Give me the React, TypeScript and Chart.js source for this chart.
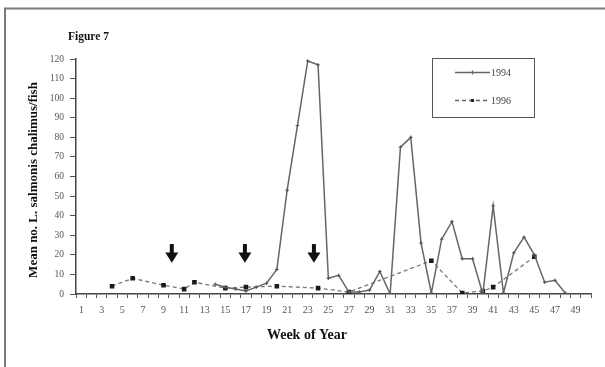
import React, { useEffect, useRef } from "react";
import { Chart, registerables } from "chart.js";
Chart.register(...registerables);

const weekLabels = [
  "1","2","3","4","5","6","7","8","9","10",
  "11","12","13","14","15","16","17","18","19","20",
  "21","22","23","24","25","26","27","28","29","30",
  "31","32","33","34","35","36","37","38","39","40",
  "41","42","43","44","45","46","47","48","49","50",
];

const series1994: (number | null)[] = [
  null, null, null, null, null, null, null, null, null, null,
  null, null, null, 5, 3.5, 2.5, 1.5, 3.5, 5.5, 12.5,
  53, 86, 119, 117, 8, 9.5, 1, 1, 2, 11.5,
  0, 75, 80, 26, 0.5, 28, 37, 18, 18, 0,
  45, 0.5, 21, 29, 20, 6, 7, 0.5, null, null,
];

const series1996: (number | null)[] = [
  null, null, null, 4, null, 8, null, null, 4.5, null,
  2.5, 6, null, null, 3, null, 3.5, null, null, 4,
  null, null, null, 3, null, null, 1, null, null, null,
  null, null, null, null, 17, null, null, 0.5, null, 1.5,
  3.5, null, null, null, 19, null, null, null, null, null,
];

const seriesNames = ["1994", "1996"];
const arrowWeeks = [9.8, 16.9, 23.6];
const arrowTopValue = 25.5;
const arrowTipValue = 16;
const yMin = 0;
const yMax = 120;
const yStep = 10;
const figureTitle = "Figure 7";
const xTitle = "Week of Year";
const yTitle = "Mean no. L. salmonis chalimus/fish";

const SERIF = '"Liberation Serif", "Times New Roman", serif';

const decorPlugin = {
  id: "decor",
  beforeDraw(chart: any) {
    const ctx = chart.ctx;
    ctx.save();
    ctx.fillStyle = "#ffffff";
    ctx.fillRect(0, 0, chart.width, chart.height);
    ctx.strokeStyle = "#7a7a7a";
    ctx.lineWidth = 2;
    ctx.beginPath();
    ctx.moveTo(5, chart.height);
    ctx.lineTo(5, 8.5);
    ctx.lineTo(chart.width, 8.5);
    ctx.stroke();
    ctx.restore();
  },
  afterDraw(chart: any) {
    const ctx = chart.ctx;
    const xs = chart.scales.x;
    const ys = chart.scales.y;
    ctx.save();

    // arrows
    const p0 = xs.getPixelForValue(0);
    const step = xs.getPixelForValue(1) - p0;
    ctx.fillStyle = "#111";
    arrowWeeks.forEach((w) => {
      const cx = p0 + (w - 1) * step;
      const top = ys.getPixelForValue(arrowTopValue);
      const tip = ys.getPixelForValue(arrowTipValue);
      const headH = (tip - top) * 0.55;
      ctx.fillRect(cx - 2, top, 4, tip - top - headH + 1);
      ctx.beginPath();
      ctx.moveTo(cx - 6.5, tip - headH);
      ctx.lineTo(cx + 6.5, tip - headH);
      ctx.lineTo(cx, tip);
      ctx.closePath();
      ctx.fill();
    });

    // titles
    ctx.fillStyle = "#111";
    ctx.font = `bold 11.5px ${SERIF}`;
    ctx.textAlign = "left";
    ctx.textBaseline = "middle";
    ctx.fillText(figureTitle, 68, 37);

    ctx.font = `bold 14px ${SERIF}`;
    ctx.textAlign = "center";
    ctx.fillText(xTitle, 307, 335);

    ctx.save();
    ctx.translate(34, 180);
    ctx.rotate(-Math.PI / 2);
    ctx.font = `bold 13px ${SERIF}`;
    ctx.fillText(yTitle, 0, 0);
    ctx.restore();

    // legend
    ctx.strokeStyle = "#555";
    ctx.lineWidth = 1;
    ctx.strokeRect(432.5, 58.5, 102, 59);
    ctx.font = `10px ${SERIF}`;
    ctx.textAlign = "left";
    ctx.fillStyle = "#444";

    // 1994
    ctx.strokeStyle = "#666";
    ctx.lineWidth = 1.3;
    ctx.beginPath();
    ctx.moveTo(455, 72.5);
    ctx.lineTo(490, 72.5);
    ctx.stroke();
    ctx.beginPath();
    ctx.moveTo(472.5, 70.5);
    ctx.lineTo(472.5, 74.5);
    ctx.stroke();
    ctx.fillText(seriesNames[0], 491, 73);

    // 1996
    ctx.setLineDash([4, 3]);
    ctx.beginPath();
    ctx.moveTo(455, 100.5);
    ctx.lineTo(490, 100.5);
    ctx.stroke();
    ctx.setLineDash([]);
    ctx.fillStyle = "#222";
    ctx.fillRect(471, 99, 3, 3);
    ctx.fillStyle = "#444";
    ctx.fillText(seriesNames[1], 491, 101);

    ctx.restore();
  },
};

export default function App() {
  const canvasRef = useRef<HTMLCanvasElement | null>(null);

  useEffect(() => {
    if (!canvasRef.current) return;
    const chart = new Chart(canvasRef.current, {
      type: "line",
      data: {
        labels: weekLabels,
        datasets: [
          {
            label: seriesNames[0],
            data: series1994,
            borderColor: "#666666",
            borderWidth: 1.5,
            pointStyle: "cross",
            pointRadius: 1.8,
            pointBorderColor: "#555",
            pointBorderWidth: 1,
            tension: 0,
            fill: false,
          },
          {
            label: seriesNames[1],
            data: series1996,
            borderColor: "#777777",
            borderWidth: 1.3,
            borderDash: [4, 3],
            pointStyle: "rect",
            pointRadius: 2.3,
            pointBackgroundColor: "#1a1a1a",
            pointBorderColor: "#1a1a1a",
            spanGaps: true,
            tension: 0,
            fill: false,
          },
        ],
      },
      options: {
        animation: false,
        responsive: false,
        maintainAspectRatio: false,
        layout: { padding: { left: 0, top: 59, right: 14, bottom: 0 } },
        plugins: {
          legend: { display: false },
          tooltip: { enabled: false },
        },
        scales: {
          x: {
            type: "category",
            offset: true,
            afterFit: (scale: any) => {
              scale.height = 73;
            },
            grid: {
              offset: true,
              drawOnChartArea: false,
              drawTicks: true,
              tickLength: 4,
              color: "#555",
            },
            border: { display: true, color: "#444", width: 1.5 },
            ticks: {
              autoSkip: false,
              maxRotation: 0,
              minRotation: 0,
              padding: 6,
              color: "#555",
              font: { family: SERIF, size: 10 },
              callback: (_v: any, i: number) => (i % 2 === 0 ? weekLabels[i] : ""),
            },
          },
          y: {
            min: yMin,
            max: yMax,
            afterFit: (scale: any) => {
              scale.width = 76;
            },
            grid: {
              drawOnChartArea: false,
              drawTicks: true,
              tickLength: 6,
              color: "#555",
            },
            border: { display: true, color: "#444", width: 1.5 },
            ticks: {
              stepSize: yStep,
              padding: 6,
              color: "#555",
              font: { family: SERIF, size: 9.5 },
            },
          },
        },
      },
      plugins: [decorPlugin],
    });
    return () => chart.destroy();
  }, []);

  return (
    <div style={{ position: "fixed", left: 0, top: 0, width: 605, height: 367, background: "#fff" }}>
      <canvas ref={canvasRef} width={605} height={367} style={{ width: 605, height: 367, display: "block" }} />
    </div>
  );
}
